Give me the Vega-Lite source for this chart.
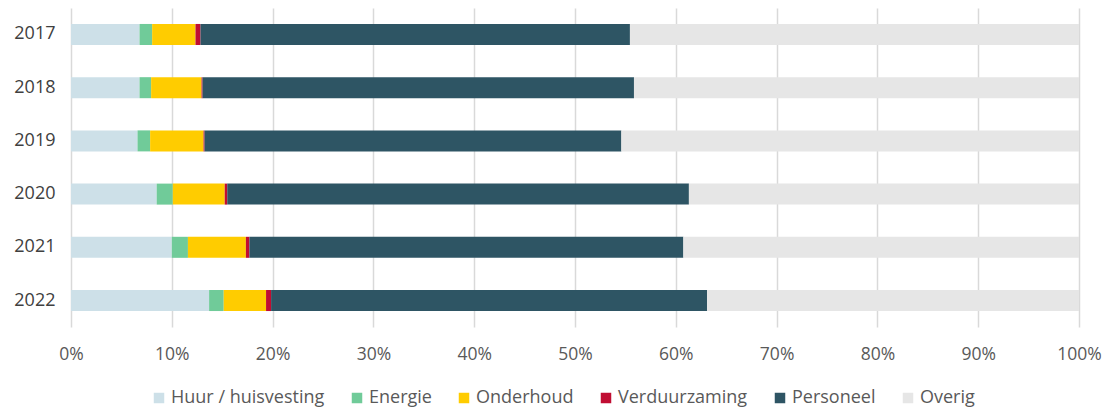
{
  "$schema": "https://vega.github.io/schema/vega-lite/v6.json",
  "autosize": {"type": "none"},
  "width": 1008,
  "height": 319,
  "padding": {"left": 71, "top": 8, "right": 30, "bottom": 81},
  "background": "white",
  "config": {
    "view": {"stroke": null},
    "font": "Open Sans"
  },
  "data": {
    "values": [
      {"jaar": "2017", "nr": 1, "categorie": "Huur / huisvesting", "aandeel": 6.8},
      {"jaar": "2017", "nr": 2, "categorie": "Energie", "aandeel": 1.25},
      {"jaar": "2017", "nr": 3, "categorie": "Onderhoud", "aandeel": 4.3},
      {"jaar": "2017", "nr": 4, "categorie": "Verduurzaming", "aandeel": 0.5},
      {"jaar": "2017", "nr": 5, "categorie": "Personeel", "aandeel": 42.6},
      {"jaar": "2017", "nr": 6, "categorie": "Overig", "aandeel": 44.55},
      {"jaar": "2018", "nr": 1, "categorie": "Huur / huisvesting", "aandeel": 6.8},
      {"jaar": "2018", "nr": 2, "categorie": "Energie", "aandeel": 1.15},
      {"jaar": "2018", "nr": 3, "categorie": "Onderhoud", "aandeel": 5.0},
      {"jaar": "2018", "nr": 4, "categorie": "Verduurzaming", "aandeel": 0.1},
      {"jaar": "2018", "nr": 5, "categorie": "Personeel", "aandeel": 42.8},
      {"jaar": "2018", "nr": 6, "categorie": "Overig", "aandeel": 44.15},
      {"jaar": "2019", "nr": 1, "categorie": "Huur / huisvesting", "aandeel": 6.6},
      {"jaar": "2019", "nr": 2, "categorie": "Energie", "aandeel": 1.25},
      {"jaar": "2019", "nr": 3, "categorie": "Onderhoud", "aandeel": 5.3},
      {"jaar": "2019", "nr": 4, "categorie": "Verduurzaming", "aandeel": 0.1},
      {"jaar": "2019", "nr": 5, "categorie": "Personeel", "aandeel": 41.35},
      {"jaar": "2019", "nr": 6, "categorie": "Overig", "aandeel": 45.4},
      {"jaar": "2020", "nr": 1, "categorie": "Huur / huisvesting", "aandeel": 8.5},
      {"jaar": "2020", "nr": 2, "categorie": "Energie", "aandeel": 1.6},
      {"jaar": "2020", "nr": 3, "categorie": "Onderhoud", "aandeel": 5.15},
      {"jaar": "2020", "nr": 4, "categorie": "Verduurzaming", "aandeel": 0.25},
      {"jaar": "2020", "nr": 5, "categorie": "Personeel", "aandeel": 45.8},
      {"jaar": "2020", "nr": 6, "categorie": "Overig", "aandeel": 38.7},
      {"jaar": "2021", "nr": 1, "categorie": "Huur / huisvesting", "aandeel": 10.0},
      {"jaar": "2021", "nr": 2, "categorie": "Energie", "aandeel": 1.6},
      {"jaar": "2021", "nr": 3, "categorie": "Onderhoud", "aandeel": 5.75},
      {"jaar": "2021", "nr": 4, "categorie": "Verduurzaming", "aandeel": 0.35},
      {"jaar": "2021", "nr": 5, "categorie": "Personeel", "aandeel": 43.05},
      {"jaar": "2021", "nr": 6, "categorie": "Overig", "aandeel": 39.25},
      {"jaar": "2022", "nr": 1, "categorie": "Huur / huisvesting", "aandeel": 13.7},
      {"jaar": "2022", "nr": 2, "categorie": "Energie", "aandeel": 1.45},
      {"jaar": "2022", "nr": 3, "categorie": "Onderhoud", "aandeel": 4.2},
      {"jaar": "2022", "nr": 4, "categorie": "Verduurzaming", "aandeel": 0.5},
      {"jaar": "2022", "nr": 5, "categorie": "Personeel", "aandeel": 43.25},
      {"jaar": "2022", "nr": 6, "categorie": "Overig", "aandeel": 36.9}
    ]
  },
  "mark": {"type": "bar"},
  "encoding": {
    "y": {
      "field": "jaar",
      "type": "nominal",
      "sort": ["2017", "2018", "2019", "2020", "2021", "2022"],
      "scale": {"paddingInner": 0.605, "paddingOuter": 0.3},
      "axis": {
        "title": null,
        "ticks": false,
        "domain": false,
        "labelFontSize": 18,
        "labelColor": "#404040",
        "labelPadding": 16,
        "labelFont": "Open Sans"
      }
    },
    "x": {
      "field": "aandeel",
      "type": "quantitative",
      "stack": "normalize",
      "scale": {"domain": [0, 1], "nice": false},
      "axis": {
        "title": null,
        "format": ".0%",
        "values": [0, 0.1, 0.2, 0.3, 0.4, 0.5, 0.6, 0.7, 0.8, 0.9, 1],
        "ticks": false,
        "domain": false,
        "grid": true,
        "gridColor": "#d9d9d9",
        "gridWidth": 1.5,
        "labelFlush": false,
        "labelFontSize": 17.5,
        "labelColor": "#595959",
        "labelPadding": 18,
        "labelFont": "Open Sans"
      }
    },
    "order": {"field": "nr", "type": "quantitative", "sort": "ascending"},
    "color": {
      "field": "categorie",
      "type": "nominal",
      "sort": ["Huur / huisvesting", "Energie", "Onderhoud", "Verduurzaming", "Personeel", "Overig"],
      "scale": {
        "domain": ["Huur / huisvesting", "Energie", "Onderhoud", "Verduurzaming", "Personeel", "Overig"],
        "range": ["#cde0e8", "#70cb99", "#ffcc00", "#c00d32", "#2e5564", "#e6e6e6"]
      },
      "legend": {
        "title": null,
        "orient": "none",
        "direction": "horizontal",
        "legendX": 79,
        "legendY": 381,
        "symbolType": "square",
        "symbolSize": 110,
        "symbolStrokeWidth": 0,
        "labelFontSize": 18,
        "labelColor": "#595959",
        "labelFont": "Open Sans",
        "labelOffset": 3,
        "columnPadding": 23,
        "labelLimit": 300
      }
    }
  }
}
